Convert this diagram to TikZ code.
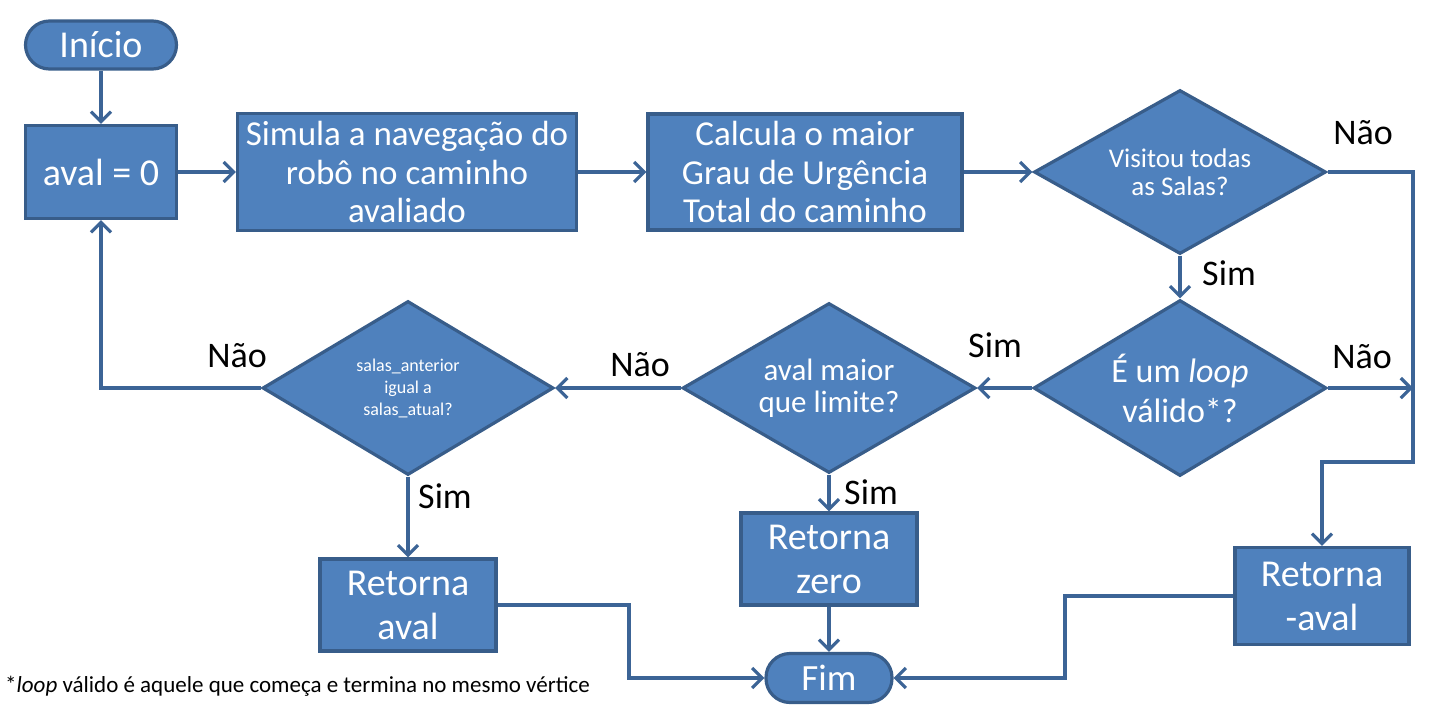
\documentclass[tikz,border=0pt]{standalone}
\usepackage{fontspec}
\setmainfont{Carlito}
\usetikzlibrary{shapes.geometric,arrows.meta}
\definecolor{caixa}{HTML}{4F81BD}
\definecolor{borda}{HTML}{385D8A}
\definecolor{linha}{HTML}{3C6496}
\tikzset{
  processo/.style={draw=borda, fill=caixa, line width=3.2pt, text=white,
    align=center, inner sep=0pt, font=\fontsize{38}{44}\selectfont},
  terminal/.style={processo, rounded corners=24pt},
  decisao/.style={diamond, draw=borda, fill=caixa, line width=3.2pt, text=white,
    align=center, inner sep=0pt, aspect=1.77},
  rotulo/.style={font=\fontsize{36}{40}\selectfont},
  ligacao/.style={draw=linha, line width=3.2pt},
  seta/.style={ligacao, -{Straight Barb[length=10pt,width=20pt]}},
}
\begin{document}
\begin{tikzpicture}[x=1pt,y=-1pt]
    \useasboundingbox (0,0) rectangle (1434,718);

    % 绘制第一行的节点
    \node[terminal, minimum width=151pt, minimum height=48pt] (inicio) at (101,45) {Início};
    \node[processo, minimum width=151pt, minimum height=93pt] (aval) at (101,172) {aval = 0};
    \node[processo, minimum width=339pt, minimum height=117pt,
        font=\fontsize{35}{38.5}\selectfont] (simula) at (407,172)
        {Simula a navegação do\\robô no caminho\\avaliado};
    \node[processo, minimum width=314pt, minimum height=116pt,
        font=\fontsize{35}{38.5}\selectfont] (calcula) at (805,172)
        {Calcula o maior\\Grau de Urgência\\Total do caminho};
    \node[decisao, minimum width=292pt, minimum height=164pt,
        font=\fontsize{27}{28}\selectfont] (visitou) at (1180,172) {Visitou todas\\as Salas?};

    % 绘制第二行的判断
    \node[decisao, minimum width=293pt, minimum height=176pt,
        font=\fontsize{34}{40}\selectfont] (valido) at (1180,388) {É um \textit{loop}\\válido*?};
    \node[decisao, minimum width=293pt, minimum height=170pt,
        font=\fontsize{31}{32}\selectfont] (limite) at (829,388) {aval maior\\que limite?};
    \node[decisao, minimum width=291pt, minimum height=174pt,
        font=\fontsize{18}{22}\selectfont] (salas) at (408,388)
        {salas\_anterior\\igual a\\salas\_atual?};

    % 绘制返回的节点
    \node[processo, minimum width=176pt, minimum height=92pt] (retaval) at (408,605) {Retorna\\aval};
    \node[processo, minimum width=176pt, minimum height=92pt] (retzero) at (829,559) {Retorna\\zero};
    \node[processo, minimum width=174pt, minimum height=97pt] (retmenos) at (1322,596) {Retorna\\-aval};
    \node[terminal, minimum width=126pt, minimum height=49pt, font=\fontsize{37}{40}\selectfont] (fim) at (829,678) {Fim};

    % 辅助点
    \coordinate (dirA) at (1413,462);
    \coordinate (dirB) at (1413,388);
    \coordinate (meioA) at (629,640);
    \coordinate (meioB) at (1065,640);

    % 绘制连接线
    \draw[seta] (inicio) -- (aval);
    \draw[seta] (aval) -- (simula);
    \draw[seta] (simula) -- (calcula);
    \draw[seta] (calcula) -- (visitou);
    \draw[seta] (visitou.east) -| (dirA) -| (retmenos.north);
    \draw[seta] (visitou.south) -- (valido.north);
    \draw[seta] (valido.east) -- (dirB);
    \draw[seta] (valido.west) -- (limite.east);
    \draw[seta] (limite.west) -- (salas.east);
    \draw[seta] (limite.south) -- (retzero.north);
    \draw[seta] (salas.west) -| (aval.south);
    \draw[seta] (salas.south) -- (retaval.north);
    \draw[seta] (retaval.east) -| (meioA) |- (fim.west);
    \draw[seta] (retzero.south) -- (fim.north);
    \draw[seta] (retmenos.west) -| (meioB) |- (fim.east);

    % 绘制标签
    \node[rotulo] (naoA) at (1363,133) {Não};
    \node[rotulo] (simA) at (1229,273) {Sim};
    \node[rotulo] (naoB) at (1362,357) {Não};
    \node[rotulo] (simB) at (995,345) {Sim};
    \node[rotulo] (naoC) at (640,365) {Não};
    \node[rotulo] (simC) at (871,492) {Sim};
    \node[rotulo] (naoD) at (237,356) {Não};
    \node[rotulo] (simD) at (445,496) {Sim};

    % 注释
    \node[anchor=west, inner sep=0pt, font=\fontsize{23}{27}\selectfont] (nota) at (5,686)
        {*\textit{loop} válido é aquele que começa e termina no mesmo vértice};
\end{tikzpicture}
\end{document}
